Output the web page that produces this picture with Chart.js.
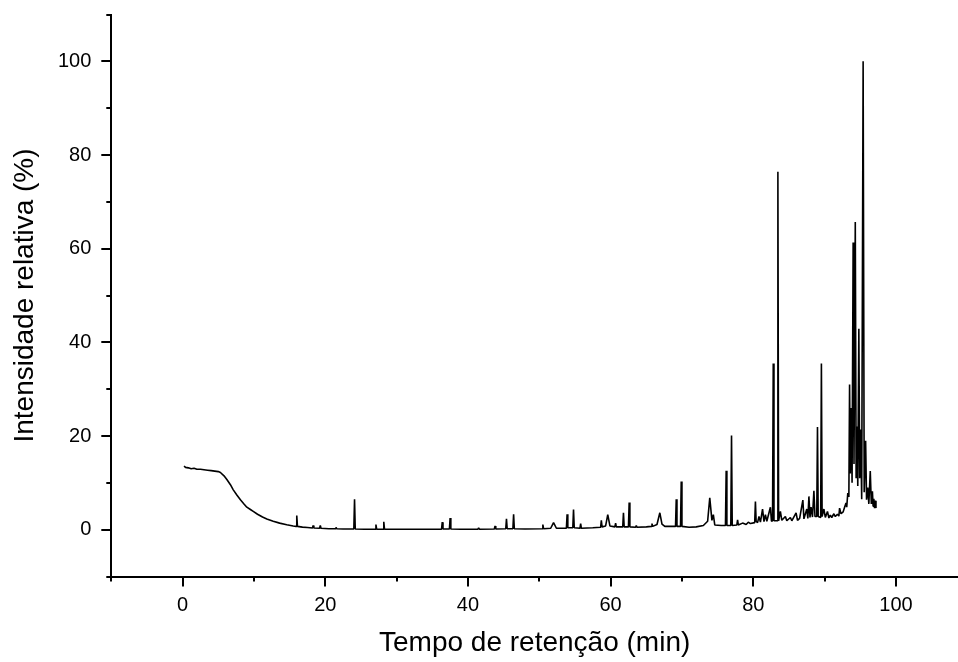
<!DOCTYPE html>
<html>
<head>
<meta charset="utf-8">
<title>Cromatograma</title>
<script src="https://cdn.jsdelivr.net/npm/chart.js@4.4.1/dist/chart.umd.min.js"></script>
<style>
  html, body { margin: 0; padding: 0; background: #fff; }
  #wrap { width: 958px; height: 662px; }
</style>
</head>
<body>
<div id="wrap"><canvas id="chromatogram" width="958" height="662"></canvas></div>
<script>
// Retention time (min) and relative intensity (%)
const retentionTime = [
    0.2, 0.4, 0.8, 1.2, 1.6, 2.0, 2.5, 3.0, 3.5, 4.0, 4.5, 5.0, 5.3, 5.8, 6.2, 6.7, 7.1, 7.6, 8.1, 8.6,
    9.0, 9.5, 9.9, 10.5, 11.2, 11.8, 12.7, 13.6, 14.6, 15.5, 15.9, 16.0, 16.1, 16.8, 17.5,
    18.2, 18.3, 18.4, 19.2, 19.3, 19.4, 20.5, 21.4, 21.5, 21.6, 22.5, 23.5, 24.0, 24.1, 24.2,
    25.5, 27.0, 27.1, 27.2, 28.1, 28.2, 28.3, 30.0, 33.0, 36.3, 36.4, 36.5, 37.4, 37.5, 37.6,
    39.0, 41.4, 41.5, 41.6, 43.7, 43.8, 43.9, 45.3, 45.4, 45.5, 46.3, 46.4, 46.5, 48.0,
    50.4, 50.5, 50.6, 51.6, 52.0, 52.4, 53.8, 53.9, 54.0, 54.7, 54.8, 54.9, 55.7, 55.8, 55.9,
    57.5, 58.6, 58.7, 58.8, 59.3, 59.6, 59.9, 60.6, 60.7, 60.8, 61.7, 61.8, 61.9, 62.5, 62.6, 62.7,
    63.5, 63.6, 63.7, 65.0, 65.7, 65.8, 65.9, 66.5, 66.9, 67.2, 67.6, 69.1, 69.2, 69.3, 69.8, 69.9, 70.0,
    71.0, 72.0, 73.0, 73.6, 73.9, 74.2, 74.4, 74.6, 75.5, 76.1, 76.2, 76.3, 76.85, 76.95, 77.05,
    77.7, 77.8, 77.9, 78.5, 79.0, 79.3, 79.6, 80.2, 80.3, 80.4, 80.6, 80.8, 81.0, 81.3, 81.5, 81.7, 81.9,
    82.4, 82.55, 82.7, 82.8, 82.9, 83.35, 83.45, 83.55, 83.8, 84.0, 84.5, 84.7, 85.2, 85.4,
    86.0, 86.2, 86.5, 86.95, 87.1, 87.5, 87.65, 87.8, 87.95, 88.1, 88.3, 88.5, 88.65,
    88.9, 89.0, 89.1, 89.45, 89.55, 89.65, 89.9, 90.1, 90.4, 90.6, 90.8, 91.0, 91.3, 91.5,
    91.8, 92.0, 92.1, 92.3,
    92.6, 92.8, 93.0, 93.1, 93.25, 93.4, 93.5, 93.6, 93.75, 93.85, 94.0, 94.12, 94.3, 94.42,
    94.55, 94.65, 94.8, 94.92, 95.05, 95.2, 95.4, 95.55, 95.75, 95.88, 96.05, 96.2, 96.4,
    96.55, 96.7, 96.8, 96.9, 97.0, 97.1, 97.2
];
const intensity = [
    13.6, 13.3, 13.2, 13.0, 13.1, 12.9, 12.9, 12.8, 12.7, 12.6, 12.5, 12.4, 12.2, 11.5, 10.7, 9.6, 8.5, 7.4, 6.4, 5.5,
    4.8, 4.3, 3.9, 3.3, 2.7, 2.3, 1.8, 1.4, 1.05, 0.8, 0.7, 3.0, 0.7, 0.55, 0.45,
    0.35, 0.9, 0.35, 0.3, 0.9, 0.3, 0.2, 0.2, 0.5, 0.2, 0.15, 0.15, 0.15, 6.5, 0.15,
    0.1, 0.1, 1.1, 0.1, 0.1, 1.7, 0.1, 0.1, 0.1, 0.1, 1.6, 0.15, 0.15, 2.5, 0.15,
    0.1, 0.1, 0.4, 0.1, 0.15, 0.8, 0.15, 0.2, 2.3, 0.2, 0.2, 3.3, 0.2, 0.15,
    0.2, 1.1, 0.2, 0.3, 1.5, 0.3, 0.3, 3.3, 0.4, 0.4, 4.3, 0.4, 0.3, 1.3, 0.3,
    0.4, 0.5, 2.0, 0.6, 0.8, 3.2, 0.8, 0.6, 1.4, 0.6, 0.6, 3.6, 0.6, 0.6, 5.8, 0.6,
    0.5, 0.9, 0.5, 0.6, 0.7, 1.3, 0.7, 1.1, 3.6, 1.2, 0.7, 0.7, 6.5, 0.7, 0.7, 10.3, 0.7,
    0.5, 0.6, 0.9, 1.8, 6.8, 2.0, 3.2, 1.0, 0.9, 0.9, 12.6, 0.9, 0.9, 20.1, 0.9,
    1.0, 2.1, 1.0, 1.4, 1.1, 1.6, 1.3, 1.5, 6.0, 1.8, 1.5, 2.8, 1.6, 4.4, 1.7, 3.2, 1.8,
    4.8, 1.8, 1.9, 35.5, 1.9, 1.9, 76.4, 1.9, 3.9, 2.0, 2.8, 1.9, 2.6, 1.9,
    3.6, 2.0, 2.4, 6.3, 2.3, 4.4, 2.4, 7.1, 2.6, 4.8, 2.7, 8.3, 2.8,
    2.8, 21.9, 2.8, 2.6, 35.5, 2.8, 4.4, 2.6, 3.9, 2.5, 3.1, 2.6, 3.4, 2.8,
    3.3, 2.9, 4.6, 3.4,
    3.8, 4.8, 5.7, 4.8, 7.8, 7.0, 31, 12, 26, 10, 61.3, 14, 65.7, 11,
    22, 9.3, 42.9, 11, 21.4, 6.5, 100, 8, 19, 6.4, 9, 5.5, 12.5,
    5.5, 8.2, 5, 6.6, 4.6, 6.2, 4.6
];

const xTicks = [0, 20, 40, 60, 80, 100];
const xMinorTicks = [-10, 10, 30, 50, 70, 90];
const yTicks = [0, 20, 40, 60, 80, 100];
const yMinorTicks = [-10, 10, 30, 50, 70, 90, 110];

const fontFamily = '"Liberation Sans", Arial, sans-serif';

// small outward ticks between the labelled ones
const minorTicks = {
    id: 'minorTicks',
    afterDraw(chart) {
        const { ctx, chartArea, scales } = chart;
        ctx.save();
        ctx.strokeStyle = '#000';
        ctx.lineWidth = 2;
        ctx.beginPath();
        xMinorTicks.forEach(v => {
            const px = Math.round(scales.x.getPixelForValue(v));
            if (px < chartArea.left - 1 || px > chartArea.right + 1) return;
            ctx.moveTo(px, chartArea.bottom);
            ctx.lineTo(px, chartArea.bottom + 5);
        });
        yMinorTicks.forEach(v => {
            const py = Math.round(scales.y.getPixelForValue(v));
            ctx.moveTo(chartArea.left, py);
            ctx.lineTo(chartArea.left - 5, py);
        });
        ctx.stroke();
        ctx.restore();
    }
};

const points = retentionTime.map((t, i) => ({ x: t, y: intensity[i] }));

new Chart(document.getElementById('chromatogram'), {
    type: 'line',
    data: {
        datasets: [{
            data: points,
            borderColor: '#000',
            borderWidth: 1.6,
            borderJoinStyle: 'bevel',
            pointRadius: 0,
            tension: 0,
            fill: false
        }]
    },
    plugins: [minorTicks],
    options: {
        responsive: false,
        animation: false,
        devicePixelRatio: 1,
        layout: { padding: { top: 14.5, left: 0, right: 0, bottom: 0 } },
        plugins: {
            legend: { display: false },
            tooltip: { enabled: false }
        },
        scales: {
            x: {
                type: 'linear',
                min: -10,
                max: 108.7,
                afterBuildTicks: axis => { axis.ticks = xTicks.map(v => ({ value: v })); },
                afterFit: axis => {
                    axis.height = 85.5;
                    axis.paddingLeft = 0;
                    axis.paddingRight = 0;
                },
                grid: { drawOnChartArea: false, tickLength: 10, color: '#000', lineWidth: 2 },
                border: { display: true, color: '#000', width: 2 },
                ticks: { color: '#000', padding: 7, maxRotation: 0, font: { family: fontFamily, size: 20 } },
                title: {
                    display: true,
                    text: 'Tempo de retenção (min)',
                    color: '#000',
                    padding: { top: 2, bottom: 2 },
                    font: { family: fontFamily, size: 28 }
                }
            },
            y: {
                type: 'linear',
                min: -10,
                max: 110,
                afterBuildTicks: axis => { axis.ticks = yTicks.map(v => ({ value: v })); },
                afterFit: axis => {
                    axis.width = 111.3;
                    axis.paddingTop = 0;
                    axis.paddingBottom = 0;
                },
                grid: { drawOnChartArea: false, tickLength: 10, color: '#000', lineWidth: 2 },
                border: { display: true, color: '#000', width: 2 },
                ticks: { color: '#000', padding: 10, font: { family: fontFamily, size: 20 } },
                title: {
                    display: true,
                    text: 'Intensidade relativa (%)',
                    color: '#000',
                    padding: { top: 8, bottom: 8 },
                    font: { family: fontFamily, size: 28 }
                }
            }
        }
    }
});
</script>
</body>
</html>
